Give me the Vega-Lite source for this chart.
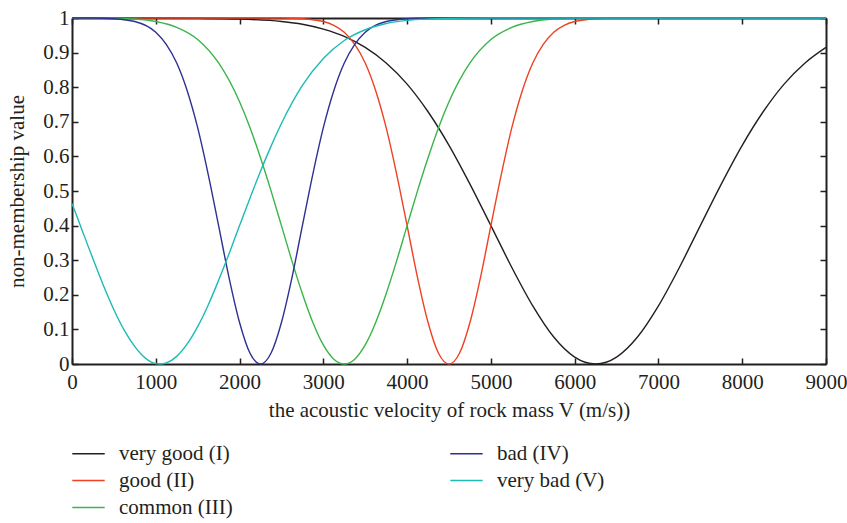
{
  "$schema": "https://vega.github.io/schema/vega-lite/v6.json",
  "width": 754,
  "height": 346,
  "autosize": {"type": "none"},
  "padding": {"left": 72, "top": 18, "right": 21, "bottom": 159},
  "background": "white",
  "config": {
    "view": {"stroke": null},
    "font": "Liberation Serif",
    "axis": {
      "labelFont": "Liberation Serif",
      "titleFont": "Liberation Serif",
      "labelFontSize": 21,
      "titleFontSize": 21,
      "titleFontWeight": "normal",
      "labelColor": "#231f20",
      "titleColor": "#231f20",
      "domainColor": "#231f20",
      "domainWidth": 2,
      "tickColor": "#231f20",
      "tickWidth": 1.5,
      "tickSize": -6,
      "labelFlush": false,
      "labelOverlap": false,
      "grid": false
    },
    "legend": {
      "labelFont": "Liberation Serif",
      "labelFontSize": 21,
      "labelColor": "#231f20"
    }
  },
  "data": {
    "values": [
      {"v": 0, "y": 1, "s": "very good (I)"},
      {"v": 500, "y": 1, "s": "very good (I)"},
      {"v": 1000, "y": 1, "s": "very good (I)"},
      {"v": 1500, "y": 0.999, "s": "very good (I)"},
      {"v": 2000, "y": 0.997, "s": "very good (I)"},
      {"v": 2500, "y": 0.99, "s": "very good (I)"},
      {"v": 2750, "y": 0.982, "s": "very good (I)"},
      {"v": 3000, "y": 0.968, "s": "very good (I)"},
      {"v": 3250, "y": 0.947, "s": "very good (I)"},
      {"v": 3500, "y": 0.915, "s": "very good (I)"},
      {"v": 3750, "y": 0.87, "s": "very good (I)"},
      {"v": 4000, "y": 0.809, "s": "very good (I)"},
      {"v": 4250, "y": 0.729, "s": "very good (I)"},
      {"v": 4500, "y": 0.632, "s": "very good (I)"},
      {"v": 4750, "y": 0.52, "s": "very good (I)"},
      {"v": 5000, "y": 0.4, "s": "very good (I)"},
      {"v": 5250, "y": 0.279, "s": "very good (I)"},
      {"v": 5500, "y": 0.168, "s": "very good (I)"},
      {"v": 5750, "y": 0.078, "s": "very good (I)"},
      {"v": 6000, "y": 0.02, "s": "very good (I)"},
      {"v": 6125, "y": 0.005, "s": "very good (I)"},
      {"v": 6250, "y": 0, "s": "very good (I)"},
      {"v": 6375, "y": 0.005, "s": "very good (I)"},
      {"v": 6500, "y": 0.02, "s": "very good (I)"},
      {"v": 6750, "y": 0.078, "s": "very good (I)"},
      {"v": 7000, "y": 0.168, "s": "very good (I)"},
      {"v": 7250, "y": 0.279, "s": "very good (I)"},
      {"v": 7500, "y": 0.4, "s": "very good (I)"},
      {"v": 7750, "y": 0.52, "s": "very good (I)"},
      {"v": 8000, "y": 0.632, "s": "very good (I)"},
      {"v": 8250, "y": 0.729, "s": "very good (I)"},
      {"v": 8500, "y": 0.809, "s": "very good (I)"},
      {"v": 8750, "y": 0.87, "s": "very good (I)"},
      {"v": 9000, "y": 0.915, "s": "very good (I)"},

      {"v": 0, "y": 1, "s": "good (II)"},
      {"v": 1000, "y": 1, "s": "good (II)"},
      {"v": 2000, "y": 1, "s": "good (II)"},
      {"v": 2500, "y": 1, "s": "good (II)"},
      {"v": 2750, "y": 0.998, "s": "good (II)"},
      {"v": 3000, "y": 0.99, "s": "good (II)"},
      {"v": 3125, "y": 0.979, "s": "good (II)"},
      {"v": 3250, "y": 0.959, "s": "good (II)"},
      {"v": 3375, "y": 0.924, "s": "good (II)"},
      {"v": 3500, "y": 0.87, "s": "good (II)"},
      {"v": 3625, "y": 0.79, "s": "good (II)"},
      {"v": 3750, "y": 0.683, "s": "good (II)"},
      {"v": 3875, "y": 0.549, "s": "good (II)"},
      {"v": 4000, "y": 0.4, "s": "good (II)"},
      {"v": 4125, "y": 0.249, "s": "good (II)"},
      {"v": 4250, "y": 0.12, "s": "good (II)"},
      {"v": 4375, "y": 0.031, "s": "good (II)"},
      {"v": 4500, "y": 0, "s": "good (II)"},
      {"v": 4625, "y": 0.031, "s": "good (II)"},
      {"v": 4750, "y": 0.12, "s": "good (II)"},
      {"v": 4875, "y": 0.249, "s": "good (II)"},
      {"v": 5000, "y": 0.4, "s": "good (II)"},
      {"v": 5125, "y": 0.549, "s": "good (II)"},
      {"v": 5250, "y": 0.683, "s": "good (II)"},
      {"v": 5375, "y": 0.79, "s": "good (II)"},
      {"v": 5500, "y": 0.87, "s": "good (II)"},
      {"v": 5625, "y": 0.924, "s": "good (II)"},
      {"v": 5750, "y": 0.959, "s": "good (II)"},
      {"v": 5875, "y": 0.979, "s": "good (II)"},
      {"v": 6000, "y": 0.99, "s": "good (II)"},
      {"v": 6250, "y": 0.998, "s": "good (II)"},
      {"v": 6500, "y": 1, "s": "good (II)"},
      {"v": 7000, "y": 1, "s": "good (II)"},
      {"v": 8000, "y": 1, "s": "good (II)"},
      {"v": 9000, "y": 1, "s": "good (II)"},

      {"v": 0, "y": 1, "s": "common (III)"},
      {"v": 250, "y": 1, "s": "common (III)"},
      {"v": 500, "y": 0.999, "s": "common (III)"},
      {"v": 750, "y": 0.997, "s": "common (III)"},
      {"v": 1000, "y": 0.99, "s": "common (III)"},
      {"v": 1250, "y": 0.973, "s": "common (III)"},
      {"v": 1500, "y": 0.938, "s": "common (III)"},
      {"v": 1750, "y": 0.87, "s": "common (III)"},
      {"v": 2000, "y": 0.758, "s": "common (III)"},
      {"v": 2125, "y": 0.683, "s": "common (III)"},
      {"v": 2250, "y": 0.596, "s": "common (III)"},
      {"v": 2375, "y": 0.501, "s": "common (III)"},
      {"v": 2500, "y": 0.4, "s": "common (III)"},
      {"v": 2625, "y": 0.298, "s": "common (III)"},
      {"v": 2750, "y": 0.203, "s": "common (III)"},
      {"v": 2875, "y": 0.12, "s": "common (III)"},
      {"v": 3000, "y": 0.055, "s": "common (III)"},
      {"v": 3125, "y": 0.014, "s": "common (III)"},
      {"v": 3250, "y": 0, "s": "common (III)"},
      {"v": 3375, "y": 0.014, "s": "common (III)"},
      {"v": 3500, "y": 0.055, "s": "common (III)"},
      {"v": 3625, "y": 0.12, "s": "common (III)"},
      {"v": 3750, "y": 0.203, "s": "common (III)"},
      {"v": 3875, "y": 0.298, "s": "common (III)"},
      {"v": 4000, "y": 0.4, "s": "common (III)"},
      {"v": 4125, "y": 0.501, "s": "common (III)"},
      {"v": 4250, "y": 0.596, "s": "common (III)"},
      {"v": 4375, "y": 0.683, "s": "common (III)"},
      {"v": 4500, "y": 0.758, "s": "common (III)"},
      {"v": 4750, "y": 0.87, "s": "common (III)"},
      {"v": 5000, "y": 0.938, "s": "common (III)"},
      {"v": 5250, "y": 0.973, "s": "common (III)"},
      {"v": 5500, "y": 0.99, "s": "common (III)"},
      {"v": 5750, "y": 0.997, "s": "common (III)"},
      {"v": 6000, "y": 0.999, "s": "common (III)"},
      {"v": 6500, "y": 1, "s": "common (III)"},
      {"v": 7000, "y": 1, "s": "common (III)"},
      {"v": 8000, "y": 1, "s": "common (III)"},
      {"v": 9000, "y": 1, "s": "common (III)"},

      {"v": 0, "y": 1, "s": "bad (IV)"},
      {"v": 250, "y": 1, "s": "bad (IV)"},
      {"v": 500, "y": 0.998, "s": "bad (IV)"},
      {"v": 750, "y": 0.99, "s": "bad (IV)"},
      {"v": 1000, "y": 0.959, "s": "bad (IV)"},
      {"v": 1125, "y": 0.924, "s": "bad (IV)"},
      {"v": 1250, "y": 0.87, "s": "bad (IV)"},
      {"v": 1375, "y": 0.79, "s": "bad (IV)"},
      {"v": 1500, "y": 0.683, "s": "bad (IV)"},
      {"v": 1625, "y": 0.549, "s": "bad (IV)"},
      {"v": 1750, "y": 0.4, "s": "bad (IV)"},
      {"v": 1875, "y": 0.249, "s": "bad (IV)"},
      {"v": 2000, "y": 0.12, "s": "bad (IV)"},
      {"v": 2125, "y": 0.031, "s": "bad (IV)"},
      {"v": 2250, "y": 0, "s": "bad (IV)"},
      {"v": 2375, "y": 0.031, "s": "bad (IV)"},
      {"v": 2500, "y": 0.12, "s": "bad (IV)"},
      {"v": 2625, "y": 0.249, "s": "bad (IV)"},
      {"v": 2750, "y": 0.4, "s": "bad (IV)"},
      {"v": 2875, "y": 0.549, "s": "bad (IV)"},
      {"v": 3000, "y": 0.683, "s": "bad (IV)"},
      {"v": 3125, "y": 0.79, "s": "bad (IV)"},
      {"v": 3250, "y": 0.87, "s": "bad (IV)"},
      {"v": 3375, "y": 0.924, "s": "bad (IV)"},
      {"v": 3500, "y": 0.959, "s": "bad (IV)"},
      {"v": 3750, "y": 0.99, "s": "bad (IV)"},
      {"v": 4000, "y": 0.998, "s": "bad (IV)"},
      {"v": 4250, "y": 1, "s": "bad (IV)"},
      {"v": 5000, "y": 1, "s": "bad (IV)"},
      {"v": 6000, "y": 1, "s": "bad (IV)"},
      {"v": 7000, "y": 1, "s": "bad (IV)"},
      {"v": 8000, "y": 1, "s": "bad (IV)"},
      {"v": 9000, "y": 1, "s": "bad (IV)"},

      {"v": 0, "y": 0.464, "s": "very bad (V)"},
      {"v": 125, "y": 0.384, "s": "very bad (V)"},
      {"v": 250, "y": 0.304, "s": "very bad (V)"},
      {"v": 375, "y": 0.227, "s": "very bad (V)"},
      {"v": 500, "y": 0.157, "s": "very bad (V)"},
      {"v": 625, "y": 0.097, "s": "very bad (V)"},
      {"v": 750, "y": 0.05, "s": "very bad (V)"},
      {"v": 875, "y": 0.017, "s": "very bad (V)"},
      {"v": 1000, "y": 0.001, "s": "very bad (V)"},
      {"v": 1050, "y": 0, "s": "very bad (V)"},
      {"v": 1125, "y": 0.003, "s": "very bad (V)"},
      {"v": 1250, "y": 0.022, "s": "very bad (V)"},
      {"v": 1375, "y": 0.058, "s": "very bad (V)"},
      {"v": 1500, "y": 0.108, "s": "very bad (V)"},
      {"v": 1625, "y": 0.17, "s": "very bad (V)"},
      {"v": 1750, "y": 0.242, "s": "very bad (V)"},
      {"v": 1875, "y": 0.319, "s": "very bad (V)"},
      {"v": 2000, "y": 0.4, "s": "very bad (V)"},
      {"v": 2125, "y": 0.48, "s": "very bad (V)"},
      {"v": 2250, "y": 0.557, "s": "very bad (V)"},
      {"v": 2375, "y": 0.629, "s": "very bad (V)"},
      {"v": 2500, "y": 0.695, "s": "very bad (V)"},
      {"v": 2750, "y": 0.805, "s": "very bad (V)"},
      {"v": 3000, "y": 0.883, "s": "very bad (V)"},
      {"v": 3250, "y": 0.935, "s": "very bad (V)"},
      {"v": 3500, "y": 0.966, "s": "very bad (V)"},
      {"v": 3750, "y": 0.984, "s": "very bad (V)"},
      {"v": 4000, "y": 0.993, "s": "very bad (V)"},
      {"v": 4250, "y": 0.997, "s": "very bad (V)"},
      {"v": 4500, "y": 0.999, "s": "very bad (V)"},
      {"v": 5000, "y": 1, "s": "very bad (V)"},
      {"v": 6000, "y": 1, "s": "very bad (V)"},
      {"v": 7000, "y": 1, "s": "very bad (V)"},
      {"v": 8000, "y": 1, "s": "very bad (V)"},
      {"v": 9000, "y": 1, "s": "very bad (V)"}
    ]
  },
  "layer": [
    {
      "encoding": {
        "x": {
          "field": "v",
          "type": "quantitative",
          "scale": {"domain": [0, 9000], "nice": false},
          "axis": {
            "orient": "bottom",
            "title": "the acoustic velocity of rock mass V (m/s))",
            "values": [0, 1000, 2000, 3000, 4000, 5000, 6000, 7000, 8000, 9000],
            "format": "d",
            "labelPadding": 13,
            "titlePadding": 7
          }
        },
        "y": {
          "field": "y",
          "type": "quantitative",
          "scale": {"domain": [0, 1], "nice": false, "zero": false},
          "axis": {
            "orient": "left",
            "title": "non-membership value",
            "values": [0, 0.1, 0.2, 0.3, 0.4, 0.5, 0.6, 0.7, 0.8, 0.9, 1],
            "format": "~g",
            "labelPadding": 9,
            "titlePadding": 15
          }
        },
        "color": {
          "field": "s",
          "type": "nominal",
          "scale": {
            "domain": ["very good (I)", "good (II)", "common (III)", "bad (IV)", "very bad (V)"],
            "range": ["#231f20", "#ef4123", "#39b54a", "#2e3192", "#1cbbb4"]
          },
          "legend": {
            "title": null,
            "orient": "none",
            "legendX": 2,
            "legendY": 421,
            "columns": 2,
            "columnPadding": 214,
            "rowPadding": 2,
            "symbolType": "M-1.2,0H1.2",
            "symbolSize": 729,
            "symbolStrokeWidth": 1.5,
            "labelOffset": 16
          }
        }
      },
      "layer": [
        {"transform": [{"filter": "datum.s === 'very good (I)'"}], "mark": {"type": "line", "strokeWidth": 1.4, "interpolate": "monotone"}},
        {"transform": [{"filter": "datum.s === 'good (II)'"}], "mark": {"type": "line", "strokeWidth": 1.4, "interpolate": "monotone"}},
        {"transform": [{"filter": "datum.s === 'common (III)'"}], "mark": {"type": "line", "strokeWidth": 1.4, "interpolate": "monotone"}},
        {"transform": [{"filter": "datum.s === 'bad (IV)'"}], "mark": {"type": "line", "strokeWidth": 1.4, "interpolate": "monotone"}},
        {"transform": [{"filter": "datum.s === 'very bad (V)'"}], "mark": {"type": "line", "strokeWidth": 1.4, "interpolate": "monotone"}}
      ]
    },
    {
      "mark": {"type": "line", "opacity": 0},
      "encoding": {
        "x": {
          "field": "v",
          "type": "quantitative",
          "axis": {
            "orient": "top",
            "title": null,
            "labels": false,
            "values": [0, 1000, 2000, 3000, 4000, 5000, 6000, 7000, 8000, 9000]
          }
        },
        "y": {
          "field": "y",
          "type": "quantitative",
          "axis": {
            "orient": "right",
            "title": null,
            "labels": false,
            "values": [0, 0.1, 0.2, 0.3, 0.4, 0.5, 0.6, 0.7, 0.8, 0.9, 1]
          }
        }
      }
    }
  ],
  "resolve": {"axis": {"x": "independent", "y": "independent"}}
}
